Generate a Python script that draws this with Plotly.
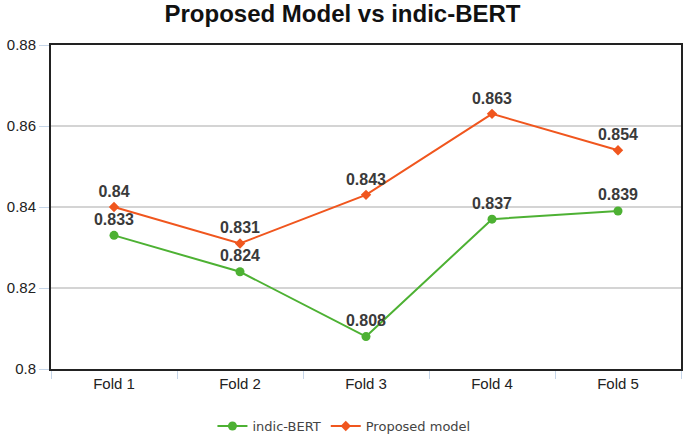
import plotly.graph_objects as go

folds = ["Fold 1", "Fold 2", "Fold 3", "Fold 4", "Fold 5"]
indic_bert = [0.833, 0.824, 0.808, 0.837, 0.839]
proposed = [0.840, 0.831, 0.843, 0.863, 0.854]
indic_labels = ["0.833", "0.824", "0.808", "0.837", "0.839"]
proposed_labels = ["0.84", "0.831", "0.843", "0.863", "0.854"]
y_ticks = [0.80, 0.82, 0.84, 0.86, 0.88]
y_tick_labels = ["0.8", "0.82", "0.84", "0.86", "0.88"]

label_font = dict(family="Liberation Sans, Arial", size=16, color="#3a3a3a")

fig = go.Figure()
fig.add_trace(go.Scatter(
    x=folds, y=indic_bert, name="indic-BERT", mode="lines+markers+text",
    line=dict(color="#4DB133", width=2),
    marker=dict(symbol="circle", size=9, color="#4DB133"),
    text=["<b>%s</b>" % t for t in indic_labels], textposition="top center",
    textfont=label_font,
))
fig.add_trace(go.Scatter(
    x=folds, y=proposed, name="Proposed model", mode="lines+markers+text",
    line=dict(color="#F0561E", width=2),
    marker=dict(symbol="diamond", size=8, color="#F0561E"),
    text=["<b>%s</b>" % t for t in proposed_labels], textposition="top center",
    textfont=label_font,
))

fig.update_layout(
    width=685, height=437,
    margin=dict(l=51, r=4, t=45, b=68, autoexpand=False),
    paper_bgcolor="white", plot_bgcolor="white",
    title=dict(text="<b>Proposed Model vs indic-BERT</b>", x=0.5, xanchor="center",
               y=1 - 14 / 437, yanchor="middle",
               font=dict(family="Liberation Sans, Arial", size=24, color="#111")),
    showlegend=True,
    legend=dict(orientation="h", x=0.465, xanchor="center", y=-0.176, yanchor="middle",
                font=dict(family="DejaVu Sans, sans-serif", size=13, color="#444"),
                itemwidth=30, tracegroupgap=0),
    font=dict(family="Liberation Sans, Arial", color="#222"),
)
fig.update_xaxes(
    type="category", showgrid=False, ticks="outside", tickson="boundaries",
    ticklen=8, tickcolor="#c5d5e8", tickwidth=1, automargin=False,
    showline=True, linecolor="#222", linewidth=2, mirror=True,
    tickfont=dict(size=15, color="#222"), range=[-0.5, 4.5],
)
fig.update_yaxes(
    range=[0.80, 0.88], tickvals=y_ticks, ticktext=y_tick_labels,
    showgrid=True, gridcolor="#d4d4d4", gridwidth=1.5, automargin=False,
    ticks="outside", ticklen=10, tickcolor="#c5d5e8",
    showline=True, linecolor="#222", linewidth=2, mirror=True,
    tickfont=dict(size=15, color="#222"), zeroline=False,
)

fig.write_html(
    "out.html",
    config={"displayModeBar": False},
    post_script="document.body.style.margin='0';document.body.style.overflow='hidden';",
)
